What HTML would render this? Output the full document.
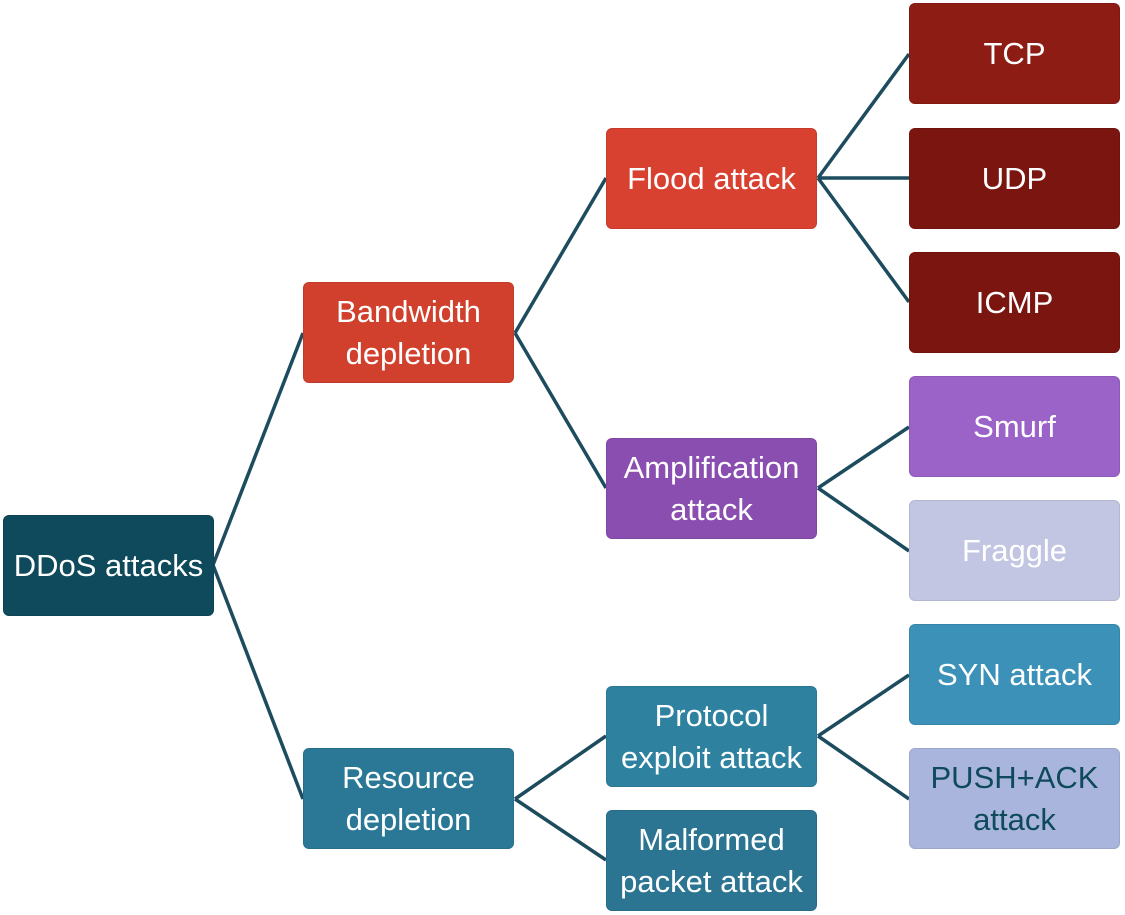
<!DOCTYPE html>
<html><head><meta charset="utf-8"><style>
html,body{margin:0;padding:0;background:#fff;}
#c{position:relative;width:1125px;height:915px;overflow:hidden;}
.b{position:absolute;width:211px;height:101px;border-radius:6px;display:flex;align-items:center;justify-content:center;text-align:center;color:#fff;font-family:"Liberation Sans Narrow","Liberation Sans",sans-serif;font-size:31px;line-height:42px;box-sizing:border-box;border:1px solid rgba(0,0,0,0.08);}
svg{position:absolute;left:0;top:0;}
</style></head><body><div id="c">
<svg width="1125" height="915"><g stroke="#1d4c5e" stroke-width="3.5" fill="none">
<line x1="213" y1="565" x2="303" y2="333"/>
<line x1="213" y1="565" x2="303" y2="799"/>
<line x1="515" y1="333" x2="606" y2="178"/>
<line x1="515" y1="333" x2="606" y2="488"/>
<line x1="515" y1="799" x2="606" y2="736"/>
<line x1="515" y1="799" x2="606" y2="860"/>
<line x1="818" y1="178" x2="909" y2="54"/>
<line x1="818" y1="178" x2="909" y2="178"/>
<line x1="818" y1="178" x2="909" y2="302"/>
<line x1="818" y1="488" x2="909" y2="427"/>
<line x1="818" y1="488" x2="909" y2="551"/>
<line x1="818" y1="736" x2="909" y2="675"/>
<line x1="818" y1="736" x2="909" y2="799"/>
</g></svg>
<div class="b" style="left:3px;top:515px;background:#0e4a5b">DDoS attacks</div>
<div class="b" style="left:303px;top:282px;background:#d1402d">Bandwidth<br>depletion</div>
<div class="b" style="left:303px;top:748px;background:#2a7896">Resource<br>depletion</div>
<div class="b" style="left:606px;top:128px;background:#d8402f">Flood attack</div>
<div class="b" style="left:606px;top:438px;background:#8a4eb0">Amplification<br>attack</div>
<div class="b" style="left:606px;top:686px;background:#2e82a0">Protocol<br>exploit attack</div>
<div class="b" style="left:606px;top:810px;background:#2b7592">Malformed<br>packet attack</div>
<div class="b" style="left:909px;top:3px;background:#8c1c14">TCP</div>
<div class="b" style="left:909px;top:128px;background:#7a1510">UDP</div>
<div class="b" style="left:909px;top:252px;background:#7a1510">ICMP</div>
<div class="b" style="left:909px;top:376px;background:#9b62c8">Smurf</div>
<div class="b" style="left:909px;top:500px;background:#c2c6e2">Fraggle</div>
<div class="b" style="left:909px;top:624px;background:#3b91b8">SYN attack</div>
<div class="b" style="left:909px;top:748px;background:#a9b5dd;color:#0e4a5b">PUSH+ACK<br>attack</div>
</div></body></html>
